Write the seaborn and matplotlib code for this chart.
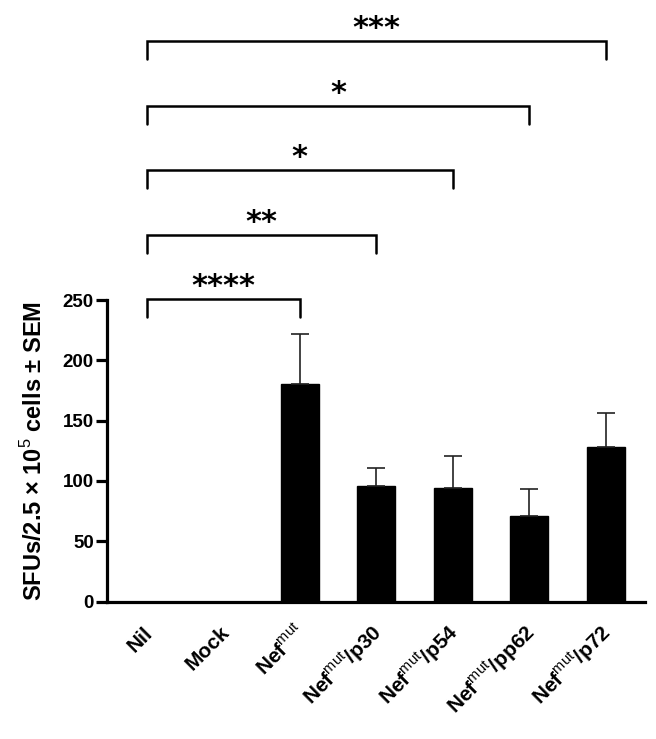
import matplotlib
matplotlib.use("Agg")
import matplotlib.pyplot as plt
import matplotlib.transforms as mtransforms
import seaborn as sns
import numpy as np
import pandas as pd

categories = ["Nil", "Mock", "Nef$^{\\mathrm{mut}}$", "Nef$^{\\mathrm{mut}}$/p30",
              "Nef$^{\\mathrm{mut}}$/p54", "Nef$^{\\mathrm{mut}}$/pp62", "Nef$^{\\mathrm{mut}}$/p72"]
means = [0, 0, 180, 96, 94, 71, 128]
sems = [0, 0, 42, 15, 27, 22, 28]

comparisons = [(0, 2, "****"), (0, 3, "**"), (0, 4, "*"), (0, 5, "*"), (0, 6, "***")]
bracket_y = [251, 304, 357.5, 411, 465]

sns.set_theme(style="ticks")
plt.rcParams["font.family"] = ["Liberation Sans", "DejaVu Sans"]
plt.rcParams["mathtext.fontset"] = "custom"
plt.rcParams["mathtext.rm"] = "Liberation Sans"
plt.rcParams["mathtext.bf"] = "Liberation Sans:bold"
plt.rcParams["text.color"] = "black"
plt.rcParams["axes.labelcolor"] = "black"
plt.rcParams["xtick.color"] = "black"
plt.rcParams["ytick.color"] = "black"

fig = plt.figure(figsize=(6.56, 7.39), dpi=100)
ax = fig.add_axes([0.163, 0.186, 0.82, 0.408])

df = pd.DataFrame({"cat": categories, "val": means})
sns.barplot(data=df, x="cat", y="val", color="black", width=0.5,
            edgecolor="black", saturation=1, ax=ax)
x = np.arange(len(categories))
ax.errorbar(x, means, yerr=[np.zeros(len(sems)), sems], fmt="none",
            ecolor="#222222", elinewidth=1.2, capsize=6.5, capthick=1.2, zorder=1)

ax.set_ylim(0, 250)
ax.set_xlim(-0.52, 6.51)
ax.set_yticks([0, 50, 100, 150, 200, 250])
ax.set_xlabel("")
ax.set_ylabel("SFUs/2.5 × 10$^{\\mathrm{5}}$ cells ± SEM", fontsize=17, fontweight="bold", labelpad=11)

for s in ["top", "right"]:
    ax.spines[s].set_visible(False)
for s in ["left", "bottom"]:
    ax.spines[s].set_linewidth(2.3)
    ax.spines[s].set_color("black")
ax.tick_params(axis="y", width=2.3, length=8, labelsize=13.5, color="black", pad=1.5)
ax.tick_params(axis="x", length=0, pad=19.5)
for lab in ax.get_yticklabels():
    lab.set_fontweight("bold")
ax.set_xticks(x)
ax.set_xticklabels(categories, rotation=45, ha="right", va="baseline",
                   rotation_mode="anchor", fontsize=15, fontweight="bold")
offset = mtransforms.ScaledTranslation(0.07, -0.05, fig.dpi_scale_trans)
for lab in ax.get_xticklabels():
    lab.set_transform(lab.get_transform() + offset)

drop = 15
for (i, j, star), yb in zip(comparisons, bracket_y):
    ax.plot([i, i, j, j], [yb - drop, yb, yb, yb - drop], color="black", lw=1.8,
            clip_on=False, solid_joinstyle="miter")
    ax.text((i + j) / 2, yb + 3.5, star, ha="center", va="baseline", fontsize=22,
            fontweight="bold", family="DejaVu Sans", clip_on=False)

fig.savefig("out.png", dpi=100)
